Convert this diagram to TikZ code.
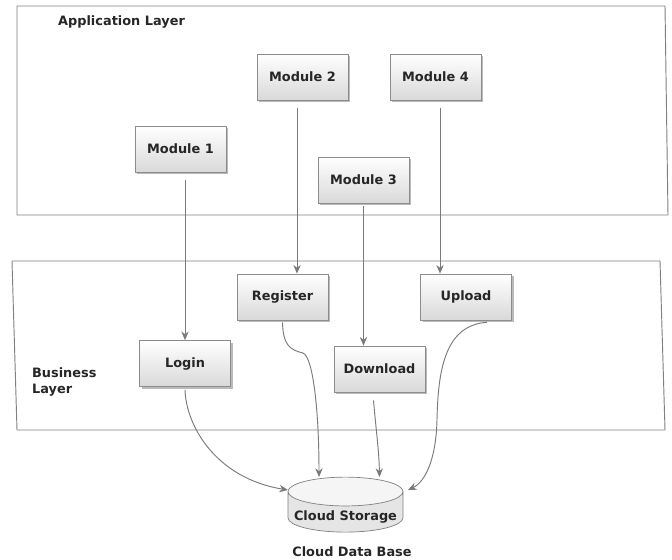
\documentclass[tikz,border=0pt]{standalone}
\usepackage{fontspec}
\setmainfont{DejaVu Sans}
\usetikzlibrary{shapes.geometric,shadows,calc,arrows.meta}
\begin{document}
\begin{tikzpicture}[x=0.03cm,y=-0.03cm,
  font=\bfseries\fontsize{11}{13.5}\selectfont,
  every node/.append style={text=black!85},
  layer/.style={draw=black!50,line width=0.8pt},
  module/.style={draw=black!45,line width=0.6pt,top color=white,bottom color=black!15,
     minimum width=2.73cm,minimum height=1.38cm,inner sep=0pt,
     drop shadow={shadow xshift=0.07cm,shadow yshift=-0.07cm,fill=black!45,opacity=0.6}},
  link/.style={draw=black!52,line width=0.8pt,-{Stealth[length=0.26cm,width=0.22cm]}},
  store/.style={cylinder,shape border rotate=90,aspect=0.28,draw=black!50,line width=0.6pt,
     cylinder uses custom fill,cylinder body fill=black!10,cylinder end fill=black!4,
     minimum width=3.45cm,minimum height=1.65cm,inner sep=0pt}
]
\useasboundingbox (0,0) rectangle (672,560);

% layer frames
\draw[layer] (17,6) -- (665,6) -- (668,215) -- (17,215) -- cycle;
\draw[layer] (12,261) -- (660,261) -- (665,430) -- (17,430) -- cycle;
\node[anchor=west] (applabel) at (54,22) {Application Layer};
\node[anchor=west,align=left] (buslabel) at (28,382) {Business\\Layer};

% application modules
\node[module] (m1) at (180.5,149) {Module 1};
\node[module] (m2) at (302.5,77) {Module 2};
\node[module] (m3) at (363.5,180) {Module 3};
\node[module] (m4) at (435.5,77) {Module 4};

% business services
\node[module] (login) at (185,363.5) {Login};
\node[module] (reg) at (282.5,297) {Register};
\node[module] (dl) at (379.5,369) {Download};
\node[module] (up) at (466,297) {Upload};

% storage
\node[store] (db) at (345.5,512) {\raisebox{-0.24cm}[0pt][0pt]{Cloud Storage}};
\node (dbname) at (352,552) {Cloud Data Base};

% module -> service links
\coordinate (s1) at ($(m1.south)+(4.5,8)$);
\coordinate (s2) at ($(m2.south)+(-5.5,8)$);
\coordinate (s3) at ($(m3.south)+(0,3)$);
\coordinate (s4) at ($(m4.south)+(4.5,8)$);
\draw[link] (s1) -- (s1 |- login.north);
\draw[link] (s2) -- (s2 |- reg.north);
\draw[link] (s3) -- (s3 |- dl.north);
\draw[link] (s4) -- (s4 |- up.north);

% service -> storage links
\coordinate (dbL) at ($(db.center)+(-57.5,-22)$);
\coordinate (dbR) at ($(db.center)+(-26.5,-35)$);
\coordinate (dbD) at ($(db.center)+(34,-35)$);
\coordinate (dbU) at ($(db.center)+(62.5,-22)$);
\coordinate (t1) at ($(login.south)+(0,3)$);
\coordinate (t2) at ($(reg.south)+(0,2)$);
\coordinate (t3) at ($(dl.south)+(-6,8)$);
\coordinate (t4) at ($(up.south)+(21,2)$);
\draw[link] (t1) .. controls (186,425) and (215,478) .. (dbL);
\draw[link] (t2) .. controls (283,345) and (290,350) .. (303,353)
               .. controls (313,357) and (319,410) .. (dbR);
\draw[link] (t3) .. controls (376,430) and (379,450) .. (dbD);
\draw[link] (t4) .. controls (445,325) and (438,370) .. (437,420)
               .. controls (436,460) and (425,482) .. (dbU);
\end{tikzpicture}
\end{document}
